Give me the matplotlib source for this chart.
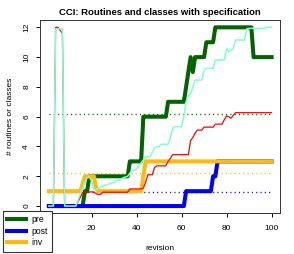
import matplotlib
matplotlib.use("Agg")
import matplotlib.pyplot as plt
from matplotlib.lines import Line2D

plt.rcParams['font.family'] = ['Liberation Sans', 'DejaVu Sans']

revision = list(range(1, 101))

pre = [0, 0, 0, 0, 0, 0, 0, 0, 0, 0,
       0, 0, 0, 0, 0, 0, 1, 1, 2, 2,
       2, 2, 2, 2, 2, 2, 2, 2, 2, 2,
       2, 2, 2, 2, 2, 2, 3, 3, 3, 3,
       3, 3, 6, 6, 6, 6, 6, 6, 6, 6,
       6, 6, 6, 7, 7, 7, 7, 7, 7, 7,
       7, 8, 9, 10, 9, 10, 10, 10, 10, 10,
       11, 11, 11, 11, 12, 12, 12, 12, 12, 12,
       12, 12, 12, 12, 12, 12, 12, 12, 12, 12,
       12, 10, 10, 10, 10, 10, 10, 10, 10, 10]

post = [0, 0, 0, 0, 0, 0, 0, 0, 0, 0,
        0, 0, 0, 0, 0, 0, 0, 0, 0, 0,
        0, 0, 0, 0, 0, 0, 0, 0, 0, 0,
        0, 0, 0, 0, 0, 0, 0, 0, 0, 0,
        0, 0, 0, 0, 0, 0, 0, 0, 0, 0,
        0, 0, 0, 0, 0, 0, 0, 0, 0, 0,
        0, 1, 1, 1, 1, 1, 1, 1, 1, 1,
        1, 1, 1, 2, 2, 3, 3, 3, 3, 3,
        3, 3, 3, 3, 3, 3, 3, 3, 3, 3,
        3, 3, 3, 3, 3, 3, 3, 3, 3, 3]

inv = [1, 1, 1, 1, 1, 1, 1, 1, 1, 1,
       1, 1, 1, 1, 1, 1.5, 2, 2, 2, 2,
       2, 1.2, 1, 1, 1, 1, 1, 1, 1, 1,
       1, 1, 1, 1, 1, 1, 1, 1, 1, 1,
       1, 1, 2, 3, 3, 3, 3, 3, 3, 3,
       3, 3, 3, 3, 3, 3, 3, 3, 3, 3,
       3, 3, 3, 3, 3, 3, 3, 3, 3, 3,
       3, 3, 3, 3, 3, 3, 3, 3, 3, 3,
       3, 3, 3, 3, 3, 3, 3, 3, 3, 3,
       3, 3, 3, 3, 3, 3, 3, 3, 3, 3]

red_series = [0, 0, 0, 12, 12, 11.8, 11.6, 0, 0, 0,
              0, 0, 0, 0.3, 0.6, 0.9, 0.95, 0.95, 0.95, 0.95,
              0.95, 0.82, 0.78, 0.78, 0.93, 0.93, 0.93, 0.93, 0.93, 0.93,
              0.93, 0.93, 0.93, 0.93, 0.93, 0.93, 1.15, 1.15, 1.15, 1.15,
              1.15, 1.15, 1.2, 1.6, 2.1, 2.1, 2.1, 2.6, 2.7, 2.7,
              2.7, 2.7, 2.7, 3.0, 3.2, 3.45, 3.45, 3.45, 3.45, 3.45,
              3.45, 3.45, 3.45, 4.4, 4.6, 4.9, 5.1, 5.1, 5.1, 5.3,
              5.3, 5.3, 5.3, 5.3, 5.5, 5.5, 5.5, 5.5, 5.8, 6.05,
              6.0, 5.9, 6.1, 6.27, 6.27, 6.27, 6.27, 6.27, 6.27, 6.27,
              6.27, 6.27, 6.27, 6.27, 6.27, 6.27, 6.27, 6.27, 6.27, 6.27]

cyan_series = [0, 0, 0, 11.9, 11.9, 11.9, 11.9, 0, 0, 0,
               0, 0, 0, 0.4, 0.9, 1.2, 1.6, 1.9, 1.95, 1.7,
               1.1, 1.1, 1.2, 1.3, 1.35, 1.4, 1.45, 1.5, 1.55, 1.6,
               1.7, 1.75, 1.8, 1.9, 1.95, 2.0, 2.2, 2.4, 2.4, 2.5,
               2.7, 2.9, 3.1, 3.3, 3.3, 3.3, 3.6, 3.9, 4.0, 4.0,
               4.15, 4.15, 4.15, 4.15, 4.6, 5.2, 5.33, 5.33, 5.33, 5.33,
               6.0, 7.0, 7.4, 7.5, 8.0, 8.46, 8.46, 8.46, 8.46, 9.1,
               9.25, 9.25, 9.25, 9.25, 9.8, 9.8, 9.8, 9.8, 9.8, 10.6,
               10.36, 10.45, 10.6, 11.15, 11.15, 11.15, 11.15, 11.15, 11.9, 11.93,
               11.93, 11.93, 11.93, 11.93, 11.93, 11.93, 11.93, 12.0, 12.0, 12.0]

ref_pre = 6.15
ref_post = 0.92
ref_inv = 2.2

xticks = [20, 40, 60, 80, 100]
yticks = [0, 2, 4, 6, 8, 10, 12]

c_pre = '#006400'
c_post = '#0000FF'
c_inv = '#FFB90F'
c_red = '#FF0000'
c_cyan = '#7FFFD4'

fig = plt.figure(figsize=(2.94, 2.54), dpi=100)
ax = fig.add_axes([0.136, 0.1606, 0.818, 0.7599])

ax.set_xlim(1 - 0.04 * 99, 100 + 0.04 * 99)
ax.set_ylim(-0.48, 12.48)

dots = (0, (0.8, 2.3))
ax.hlines(ref_pre, revision[0], revision[-1], colors=c_pre, linestyles=dots, lw=1.0, zorder=1)
ax.hlines(ref_inv, revision[0], revision[-1], colors=c_inv, linestyles=dots, lw=1.0, zorder=1)
ax.hlines(ref_post, revision[0], revision[-1], colors=c_post, linestyles=dots, lw=1.0, zorder=1)

ax.plot(revision, pre, color=c_pre, lw=2.9, zorder=2, solid_joinstyle='round')
ax.plot(revision, post, color=c_post, lw=2.9, zorder=3, solid_joinstyle='round')
ax.plot(revision, inv, color=c_inv, lw=2.9, zorder=4, solid_joinstyle='round')
ax.plot(revision, red_series, color=c_red, lw=0.9, zorder=5)
ax.plot(revision, cyan_series, color=c_cyan, lw=1.1, zorder=6)

ax.set_xticks(xticks)
ax.set_yticks(yticks)
ax.tick_params(axis='both', length=3, width=0.7, labelsize=6, colors='black')
ax.tick_params(axis='x', pad=5.5)
ax.tick_params(axis='y', pad=4, labelrotation=90)
for lab in ax.get_yticklabels():
    lab.set_va('center')
for s in ax.spines.values():
    s.set_linewidth(0.7)
    s.set_color('#333333')

ax.set_title('CCI: Routines and classes with specification', fontsize=6.8,
             fontweight='bold', pad=4.0)
ax.set_xlabel('revision', fontsize=6)
ax.set_ylabel('# routines or classes', fontsize=6)
ax.xaxis.set_label_coords(0.5, -0.165)
ax.yaxis.set_label_coords(-0.11, 0.5)

handles = [Line2D([], [], color=c_pre, lw=2.9),
           Line2D([], [], color=c_post, lw=2.9),
           Line2D([], [], color=c_inv, lw=2.9)]
leg = fig.legend(handles, ['pre', 'post', 'inv'], loc='lower left',
                 bbox_to_anchor=(0.009, 0.009), fontsize=6.2,
                 frameon=True, fancybox=False, framealpha=1,
                 edgecolor='#333333', handlelength=2.2, handletextpad=0.6,
                 borderpad=0.5, labelspacing=0.32, borderaxespad=0)
leg.get_frame().set_linewidth(0.8)
leg.set_zorder(20)

fig.savefig('out.png', dpi=100)
